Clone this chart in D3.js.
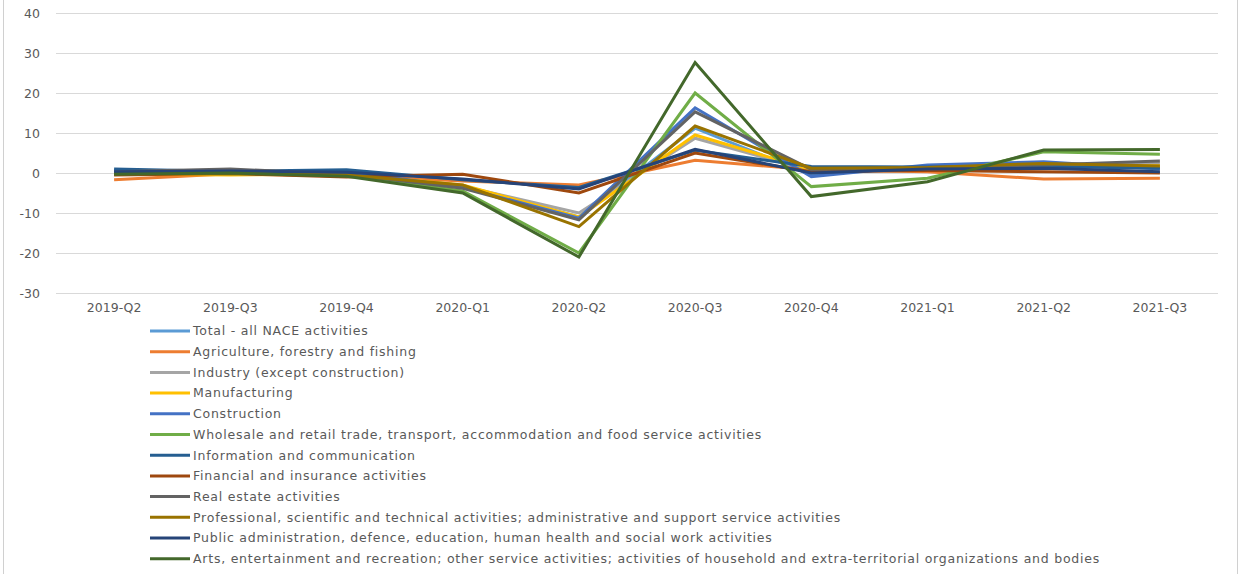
<!DOCTYPE html>
<html>
<head>
<meta charset="utf-8">
<script src="https://cdn.jsdelivr.net/npm/d3@7"></script>
<style>
  body { margin: 0; background: #fff; }
  #chart { width: 1240px; height: 574px; }
  text { font-family: "DejaVu Sans", sans-serif; fill: #595959; }
</style>
</head>
<body>
<div id="chart"></div>
<script>
const quarters = ["2019-Q2", "2019-Q3", "2019-Q4", "2020-Q1", "2020-Q2", "2020-Q3", "2020-Q4", "2021-Q1", "2021-Q2", "2021-Q3"];

const seriesNames = [
    "Total - all NACE activities",
    "Agriculture, forestry and fishing",
    "Industry (except construction)",
    "Manufacturing",
    "Construction",
    "Wholesale and retail trade, transport, accommodation and food service activities",
    "Information and communication",
    "Financial and insurance activities",
    "Real estate activities",
    "Professional, scientific and technical activities; administrative and support service activities",
    "Public administration, defence, education, human health and social work activities",
    "Arts, entertainment and recreation; other service activities; activities of household and extra-territorial organizations and bodies"
];

const seriesColors = ["#5B9BD5", "#ED7D31", "#A5A5A5", "#FFC000", "#4472C4", "#70AD47",
    "#255E91", "#9E480E", "#636363", "#997300", "#264478", "#43682B"];

const totalValues       = [0.5, 0.2, 0.3, -3.2, -11.0, 11.2, -0.5, 1.6, 2.2, 1.5];
const agricultureValues = [-1.7, -0.2, -0.6, -2.0, -3.0, 3.2, 0.8, 0.3, -1.5, -1.3];
const industryValues    = [0.2, 0.3, 0.0, -3.3, -10.0, 8.7, 0.6, 1.2, 2.0, 2.4];
const manufacturingValues = [-0.3, -0.5, -0.3, -3.0, -11.0, 9.5, 0.8, 1.3, 2.0, 1.8];
const constructionValues = [0.6, 0.3, 0.5, -3.6, -11.3, 16.3, -0.9, 2.0, 2.8, 1.0];
const wholesaleValues   = [0.0, -0.2, -0.5, -4.5, -20.0, 20.0, -3.4, -1.3, 5.3, 4.7];
const infoValues        = [1.0, 0.4, 0.8, -1.7, -3.6, 5.7, 1.6, 1.5, 1.6, 1.2];
const financialValues   = [-0.5, -0.1, -1.0, -0.3, -5.0, 5.0, 0.3, 0.6, 0.3, 0.0];
const realEstateValues  = [0.3, 1.0, -0.3, -3.8, -11.7, 15.3, 0.9, 1.4, 2.0, 3.0];
const professionalValues = [-0.2, 0.0, -0.5, -3.0, -13.4, 11.75, 1.2, 1.4, 2.4, 1.75];
const publicValues      = [0.3, 0.5, 0.2, -1.5, -4.0, 5.9, 0.0, 1.0, 1.2, 0.3];
const artsValues        = [-0.3, 0.0, -0.8, -5.0, -21.0, 27.6, -5.9, -2.2, 5.75, 5.9];

const allValues = [totalValues, agricultureValues, industryValues, manufacturingValues,
    constructionValues, wholesaleValues, infoValues, financialValues, realEstateValues,
    professionalValues, publicValues, artsValues];

const yTicks = [-30, -20, -10, 0, 10, 20, 30, 40];

const drawChart = () => {
    const svg = d3.select("#chart")
        .append("svg")
        .attr("width", 1240)
        .attr("height", 574);

    // chart frame edges
    svg.append("line").attr("x1", 3.5).attr("x2", 3.5).attr("y1", 0).attr("y2", 574)
        .attr("stroke", "#d0d0d0").attr("stroke-width", 1);
    svg.append("line").attr("x1", 1237.5).attr("x2", 1237.5).attr("y1", 0).attr("y2", 574)
        .attr("stroke", "#d0d0d0").attr("stroke-width", 1);

    // Scales
    const x = d3.scaleBand().domain(quarters).range([56, 1218]);
    const y = d3.scaleLinear().domain([-30, 40]).range([293, 13]);

    // Gridlines
    svg.append("g")
        .attr("transform", "translate(56,0)")
        .call(d3.axisLeft(y).tickValues(yTicks).tickSize(-1162).tickFormat(""))
        .call(g => g.select(".domain").remove())
        .call(g => g.selectAll("line").attr("stroke", "#d9d9d9").attr("stroke-width", 1));

    // Y labels
    svg.append("g")
        .attr("transform", "translate(56,0)")
        .call(d3.axisLeft(y).tickValues(yTicks).tickSize(0).tickPadding(16).tickFormat(d => String(d)))
        .call(g => g.select(".domain").remove())
        .call(g => g.selectAll("text").attr("font-size", "12.5px").style("font-family", "\"DejaVu Sans\", sans-serif").attr("fill", "#595959"));

    // X labels
    svg.append("g")
        .attr("transform", "translate(0,293)")
        .call(d3.axisBottom(x).tickSize(0).tickPadding(10))
        .call(g => g.select(".domain").remove())
        .call(g => g.selectAll("text").attr("font-size", "12.5px").style("font-family", "\"DejaVu Sans\", sans-serif").attr("fill", "#595959"));

    // Lines
    const line = d3.line()
        .x((d, i) => x(quarters[i]) + x.bandwidth() / 2)
        .y(d => y(d));

    allValues.forEach((vals, k) => {
        svg.append("path")
            .datum(vals)
            .attr("fill", "none")
            .attr("stroke", seriesColors[k])
            .attr("stroke-width", 3)
            .attr("stroke-linejoin", "miter")
            .attr("d", line);
    });

    // Legend
    const legend = svg.append("g").attr("transform", "translate(150,331)");
    const labels = [];
    seriesNames.forEach((name, k) => {
        const item = legend.append("g").attr("transform", `translate(0,${k * 20.7})`);
        item.append("line")
            .attr("x1", 0).attr("x2", 40).attr("y1", 0).attr("y2", 0)
            .attr("stroke", seriesColors[k]).attr("stroke-width", 3);
        labels.push(item.append("text")
            .attr("x", 43).attr("y", 0).attr("dy", "0.35em")
            .attr("font-size", "12.5px")
            .text(name));
    });

    // stretch legend spacing so the longest entry ends where the original does
    const longest = labels[labels.length - 1];
    const n = seriesNames[seriesNames.length - 1].length;
    const spacing = (907 - longest.node().getComputedTextLength()) / n;
    labels.forEach(t => t.attr("letter-spacing", spacing + "px"));
};

drawChart();
</script>
</body>
</html>
